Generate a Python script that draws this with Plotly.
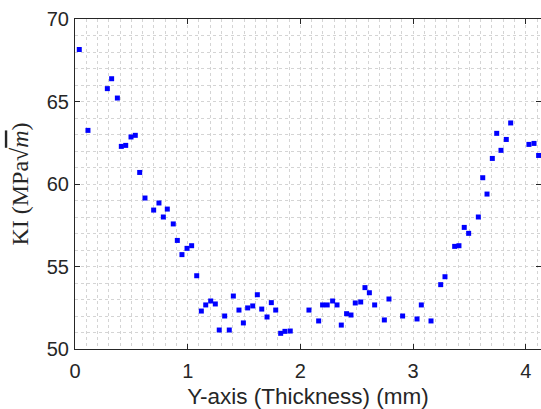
import plotly.graph_objects as go

x_mm = [0.038, 0.115, 0.287, 0.325, 0.376, 0.411, 0.450, 0.497, 0.535, 0.574,
        0.621, 0.698, 0.745, 0.784, 0.819, 0.872, 0.908, 0.949, 0.994, 1.035,
        1.080, 1.121, 1.160, 1.204, 1.245, 1.280, 1.328, 1.369, 1.405, 1.455,
        1.494, 1.532, 1.577, 1.618, 1.657, 1.704, 1.742, 1.781, 1.825, 1.863,
        1.910, 2.076, 2.162, 2.197, 2.238, 2.286, 2.325, 2.363, 2.410, 2.449,
        2.487, 2.535, 2.573, 2.612, 2.659, 2.745, 2.786, 2.907, 3.035, 3.073,
        3.159, 3.245, 3.283, 3.369, 3.407, 3.454, 3.493, 3.579, 3.618, 3.656,
        3.703, 3.742, 3.780, 3.827, 3.866, 4.028, 4.073, 4.114]
ki = [68.15, 63.25, 65.78, 66.38, 65.21, 62.28, 62.34, 62.85, 62.95, 60.70,
      59.15, 58.42, 58.85, 58.00, 58.48, 57.58, 56.58, 55.72, 56.10, 56.26,
      54.44, 52.30, 52.67, 52.91, 52.73, 51.15, 52.00, 51.15, 53.21, 52.36,
      51.58, 52.49, 52.61, 53.29, 52.42, 51.94, 52.81, 52.36, 50.95, 51.07,
      51.09, 52.36, 51.70, 52.67, 52.67, 52.91, 52.67, 51.45, 52.14, 52.06,
      52.79, 52.85, 53.72, 53.41, 52.67, 51.76, 53.03, 52.00, 51.82, 52.67,
      51.70, 53.90, 54.38, 56.22, 56.26, 57.37, 57.01, 58.00, 60.38, 59.39,
      61.55, 63.07, 62.04, 62.70, 63.70, 62.40, 62.46, 61.73]

x_ticks = [0, 1, 2, 3, 4]
y_ticks = [50, 55, 60, 65, 70]
x_range = [0, 4.135]
y_range = [50, 70]

axis_col = "#262626"
grid_col = "#d4d4d4"
sans = "Liberation Sans, Arial, sans-serif"
serif = "Liberation Serif, Times New Roman, serif"

fig = go.Figure()
fig.add_trace(go.Scatter(
    x=x_mm, y=ki, mode="markers",
    marker=dict(symbol="square", size=5, color="#0000ff", line=dict(width=0)),
    showlegend=False, cliponaxis=False))
# invisible trace to anchor the mirrored axes
fig.add_trace(go.Scatter(x=[None], y=[None], xaxis="x2", yaxis="y2",
                         showlegend=False, hoverinfo="skip"))

tick_font = dict(family=sans, size=20, color=axis_col)

fig.update_layout(
    width=541, height=409,
    margin=dict(l=75, r=0, t=19, b=60, autoexpand=False),
    paper_bgcolor="white", plot_bgcolor="white",
    xaxis=dict(
        range=x_range, tickvals=x_ticks, ticks="inside", ticklen=5, tickcolor=axis_col,
        showline=True, linecolor=axis_col, linewidth=1, zeroline=False, automargin=False,
        showgrid=True, gridcolor=grid_col, griddash="dot", gridwidth=1,
        minor=dict(dtick=0.1, showgrid=True, gridcolor=grid_col, griddash="dot", ticks=""),
        tickfont=tick_font, ticklabelstandoff=4,
        title=dict(text="Y-axis (Thickness) (mm)",
                   font=dict(family=sans, size=22.5, color=axis_col),
                   standoff=10),
    ),
    yaxis=dict(
        range=y_range, tickvals=y_ticks, ticks="inside", ticklen=5, tickcolor=axis_col,
        showline=True, linecolor=axis_col, linewidth=1, zeroline=False, automargin=False,
        showgrid=True, gridcolor=grid_col, griddash="dot", gridwidth=1,
        minor=dict(dtick=1, showgrid=True, gridcolor=grid_col, griddash="dot", ticks=""),
        tickfont=tick_font, ticklabelstandoff=1,
        title=dict(text="KI (MPa√<span style='text-decoration:overline'><i>m</i></span>)",
                   font=dict(family=serif, size=24, color=axis_col),
                   standoff=11),
    ),
    xaxis2=dict(
        range=x_range, overlaying="x", side="top", tickvals=x_ticks, ticks="inside",
        ticklen=5, tickcolor=axis_col, showticklabels=False, showgrid=False,
        showline=True, linecolor=axis_col, linewidth=1, zeroline=False, automargin=False,
    ),
    yaxis2=dict(
        range=y_range, overlaying="y", side="right", tickvals=y_ticks, ticks="inside",
        ticklen=5, tickcolor=axis_col, showticklabels=False, showgrid=False,
        showline=False, zeroline=False, automargin=False,
    ),
)

fig.write_html("out.html", config={"displayModeBar": False},
               post_script="document.body.style.margin='0';document.body.style.overflow='hidden';")
